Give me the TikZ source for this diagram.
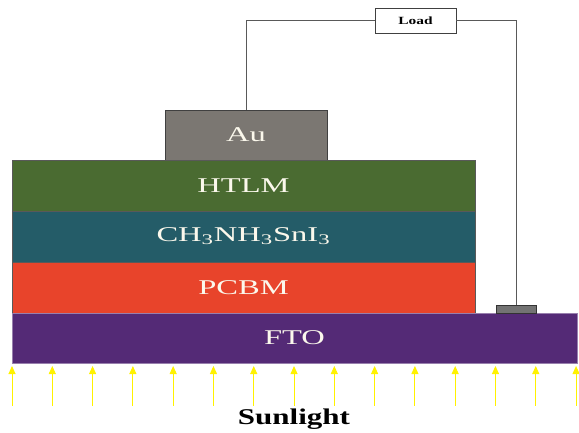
\documentclass[tikz,border=0pt]{standalone}
\usepackage{graphicx}
\usepackage{fontspec}
\setmainfont{Liberation Serif}
\usetikzlibrary{arrows.meta}
\definecolor{htlm}{HTML}{4A6B31}
\definecolor{perov}{HTML}{245C68}
\definecolor{pcbm}{HTML}{E8442B}
\definecolor{fto}{HTML}{542A76}
\definecolor{augray}{HTML}{7B7772}
\definecolor{sun}{HTML}{FFF200}
\definecolor{cream}{HTML}{FBF8EC}
\newcommand{\wdtxt}[2]{\scalebox{#1}[1]{#2}}
\tikzset{
  layer/.style={draw=black!65, line width=0.6pt, inner sep=0pt, text=cream, font=\fontsize{21}{23}\selectfont},
  wire/.style={draw=black!65, line width=0.7pt},
  ray/.style={draw=sun, line width=0.9pt, -{Triangle[width=7pt,length=8pt]}},
}
\begin{document}
\begin{tikzpicture}[x=1pt,y=-1pt]
\useasboundingbox (0,0) rectangle (579,433);
% layers
\node[layer, fill=augray, draw=black!75, minimum width=162pt, minimum height=50pt] (au) at (246,135) {\wdtxt{1.55}{Au}};
\node[layer, fill=htlm, minimum width=463pt, minimum height=51pt] (htlm) at (243.5,185.5) {\wdtxt{1.55}{HTLM}};
\node[layer, fill=perov, minimum width=463pt, minimum height=51pt] (pero) at (243.5,236.5) {\wdtxt{1.55}{CH\textsubscript{3}NH\textsubscript{3}SnI\textsubscript{3}}};
\node[layer, fill=pcbm, minimum width=463pt, minimum height=51pt] (pcbm) at (243.5,287.5) {\wdtxt{1.55}{PCBM}};
\node[layer, fill=fto, draw=fto!60, minimum width=565pt, minimum height=50pt] (fto) at (294.5,338) {\wdtxt{1.55}{FTO}};
\node[draw=black!80, fill=black!55, line width=0.6pt, minimum width=40pt, minimum height=8pt, inner sep=0pt] (contact) at (516,309) {};
% load
\node[draw=black!75, fill=white, line width=0.7pt, minimum width=81pt, minimum height=25pt, inner sep=0pt, font=\fontsize{11}{12}\bfseries\selectfont] (load) at (415.5,20.5) {\wdtxt{1.4}{Load}};
\coordinate (c1) at (246,20.5);
\coordinate (c2) at (516,20.5);
\draw[wire] (au.north) -- (c1) -- (load.west);
\draw[wire] (load.east) -- (c2) -- (contact.north);
% sunlight rays
\foreach \i in {0,...,14} {
  \coordinate (r\i) at ({12+40.29*\i},406);
  \coordinate (s\i) at ({12+40.29*\i},366);
  \draw[ray] (r\i) -- (s\i);
}
\node[font=\fontsize{22.5}{24}\bfseries\selectfont] (sunl) at (294,419) {\wdtxt{1.38}{Sunlight}};
\end{tikzpicture}
\end{document}
